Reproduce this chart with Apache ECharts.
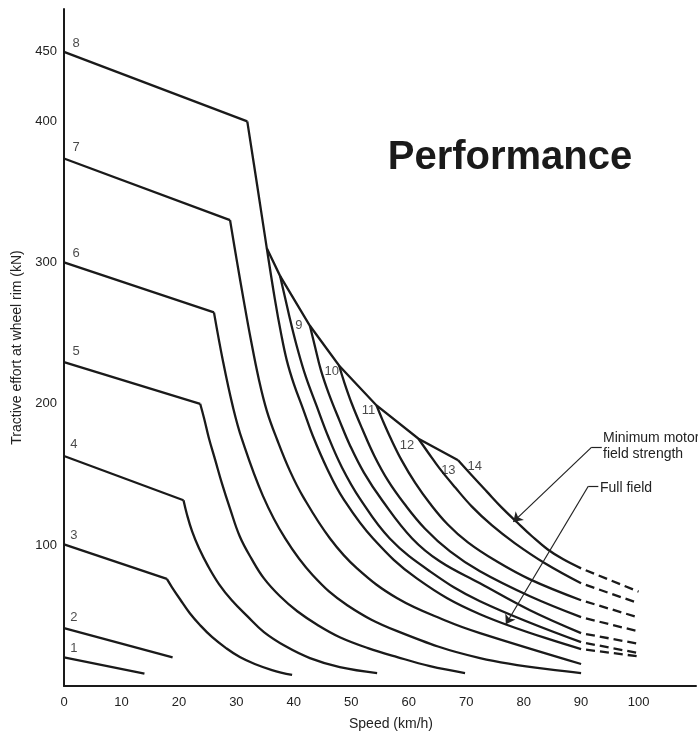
<!DOCTYPE html>
<html>
<head>
<meta charset="utf-8">
<script src="https://cdn.jsdelivr.net/npm/echarts@6/dist/echarts.min.js"></script>
<style>
  html, body { margin: 0; padding: 0; background: #ffffff; }
  #chart { width: 698px; height: 736px; }
</style>
</head>
<body>
<div id="chart"></div>
<script>
// ---------- data (speed km/h, tractive effort kN) ----------
const xTickLabels = [0, 10, 20, 30, 40, 50, 60, 70, 80, 90, 100];
const yTickLabels = [100, 200, 300, 400, 450];

const notch1 = [[0, 20.3], [14.0, 8.7]];
const notch2 = [[0, 41.0], [18.9, 20.3]];
const notch3Flat = [[0, 100.4], [17.9, 75.9]];
const notch3Fall = [[17.9, 75.9], [18.8, 70.0], [20.2, 61.5], [21.9, 51.6], [23.7, 43.1], [25.8, 34.6], [28.2, 26.9], [30.6, 20.5], [33.2, 15.6], [36.2, 11.3], [39.7, 7.8]];
const notch4Flat = [[0, 163.1], [20.8, 131.7]];
const notch4Fall = [[20.8, 131.7], [21.4, 121.6], [22.3, 109.6], [23.5, 97.6], [25.1, 84.8], [27.0, 72.1], [29.2, 60.8], [31.9, 49.5], [34.8, 38.2], [38.5, 28.3], [42.8, 19.8], [48.0, 13.4], [54.5, 9.2]];
const notch5Flat = [[0, 229.7], [23.7, 200.1]];
const notch5Fall = [[23.7, 200.1], [24.4, 189.5], [25.2, 176.0], [26.3, 160.5], [27.5, 143.5], [28.9, 125.8], [30.6, 106.0], [32.7, 89.8], [34.8, 76.3], [37.6, 63.6], [40.6, 53.0], [44.2, 43.1], [48.0, 34.6], [52.9, 26.9], [58.0, 20.5], [63.7, 14.1], [69.8, 9.2]];
const notch6Flat = [[0, 300.4], [26.1, 264.9]];
const notch6Fall = [[26.1, 264.9], [27.7, 229.7], [29.4, 197.9], [31.0, 174.6], [34.6, 135.0], [38.5, 104.6], [43.3, 78.5], [49.3, 57.3], [58.0, 38.9], [72.4, 19.8], [90, 9.2]];
const notch7Flat = [[0, 374.0], [28.9, 330.3]];
const notch7Fall = [[28.9, 330.3], [30.1, 301.1], [31.3, 272.9], [32.5, 246.0], [33.9, 217.7], [35.3, 195.1], [37.1, 174.6], [39.3, 152.7], [41.6, 134.3], [46.3, 104.6], [51.0, 83.4], [58.0, 62.2], [66.7, 45.9], [72.4, 37.5], [90, 15.6]];
const notch8Flat = [[0, 449.6], [31.9, 400.3]];
const notch8Fall = [[31.9, 400.3], [33.6, 355.6], [35.3, 310.3], [36.7, 274.3], [37.8, 249.5], [38.8, 230.5], [40.0, 214.2], [41.6, 196.5], [43.3, 177.4], [45.8, 154.1], [48.6, 132.9], [53.8, 104.6], [61.4, 76.3], [72.4, 50.9], [90, 26.2]];

const envelope = [[35.3, 310.3], [37.6, 290.8], [42.8, 255.4], [47.9, 227.1], [54.4, 198.9], [61.7, 175.3], [68.6, 160.0]];
const stepA = [[37.6, 290.8], [38.5, 275.0], [39.5, 257.3], [40.7, 238.2], [42.1, 219.1], [43.9, 199.3], [46.0, 176.7], [48.4, 154.8], [51.5, 132.9], [56.7, 104.6], [63.7, 81.3], [72.4, 60.1], [90, 31.1]];
const step9 = [[42.8, 255.4], [43.7, 240.4], [44.7, 224.1], [46.1, 207.1], [47.9, 188.7], [49.8, 170.4], [52.2, 151.3], [55.4, 131.5], [60.6, 104.6], [65.4, 88.4], [72.4, 72.8], [81.1, 53.7], [90, 37.5]];
const step10 = [[47.9, 227.1], [48.7, 216.3], [50.1, 200.1], [51.9, 182.4], [54.0, 163.3], [56.4, 145.6], [59.2, 129.4], [62.8, 111.7], [67.2, 95.4], [72.4, 81.3], [81.1, 63.6], [90, 48.8]];
const step11 = [[54.4, 198.9], [55.5, 188.0], [56.9, 175.3], [58.8, 159.8], [61.1, 144.2], [63.7, 129.4], [66.8, 114.5], [70.3, 101.8], [75.0, 89.1], [81.1, 75.6], [90, 60.8]];
const step12 = [[61.7, 175.3], [63.4, 165.4], [65.4, 154.1], [68.1, 140.7], [71.0, 127.2], [74.5, 113.8], [78.5, 101.1], [83.7, 87.0], [90, 72.8]];
const step14 = [[68.6, 160.0], [71.0, 149.2], [73.6, 137.8], [76.2, 126.5], [78.9, 115.9], [81.5, 106.0], [84.2, 96.8], [86.9, 89.8], [90, 83.4]];

const ext14 = [[90, 83.4], [100, 66.9]];
const ext12 = [[90, 72.8], [100, 58.7]];
const ext11 = [[90, 60.8], [100, 48.6]];
const ext10 = [[90, 48.8], [100, 38.7]];
const ext9 = [[90, 37.5], [100, 29.9]];
const extA = [[90, 31.1], [100, 23.3]];
const ext8 = [[90, 26.2], [100, 21.0]];

const stepNames = ['1', '2', '3', '4', '5', '6', '7', '8', '9', '10', '11', '12', '13', '14'];
const stepLabelSpeed = [1.7, 1.7, 1.7, 1.7, 2.1, 2.1, 2.1, 2.1, 40.9, 46.6, 53.0, 59.7, 66.9, 71.5];
const stepLabelForce = [26.9, 48.6, 106.5, 171.1, 237.0, 306.8, 381.9, 455.7, 255.9, 222.9, 195.3, 170.6, 152.5, 156.0];

// leader lines (data coords): [text end, corner, arrow tip]
const minFieldLeader = [[93.6, 169.4], [91.85, 169.4], [78.2, 116.4]];
const fullFieldLeader = [[93.0, 141.6], [91.25, 141.6], [76.9, 43.8]];

// ---------- chart ----------
const INK = '#1a1a1a';
const FONT = "'Liberation Sans', Arial, Helvetica, sans-serif";

function curve(data, smooth, dashed) {
  return {
    type: 'line',
    data: data,
    symbol: 'none',
    showSymbol: false,
    smooth: smooth ? 0.4 : false,
    silent: true,
    animation: false,
    lineStyle: {
      color: INK,
      width: 2.3,
      type: dashed ? [9, 5] : 'solid',
      dashOffset: dashed ? 9 : 0,
      cap: 'butt',
      join: 'miter'
    },
    z: 3
  };
}

const series = [
  curve(notch1, false), curve(notch2, false),
  curve(notch3Flat, false), curve(notch3Fall, true),
  curve(notch4Flat, false), curve(notch4Fall, true),
  curve(notch5Flat, false), curve(notch5Fall, true),
  curve(notch6Flat, false), curve(notch6Fall, true),
  curve(notch7Flat, false), curve(notch7Fall, true),
  curve(notch8Flat, false), curve(notch8Fall, true),
  curve(envelope, false),
  curve(stepA, true), curve(step9, true), curve(step10, true),
  curve(step11, true), curve(step12, true), curve(step14, true),
  curve(ext14, false, true), curve(ext12, false, true), curve(ext11, false, true),
  curve(ext10, false, true), curve(ext9, false, true), curve(extA, false, true),
  curve(ext8, false, true)
];

// step number labels
series.push({
  type: 'scatter',
  silent: true,
  animation: false,
  symbolSize: 1,
  itemStyle: { color: 'rgba(0,0,0,0)' },
  data: stepNames.map((n, i) => ({ name: n, value: [stepLabelSpeed[i], stepLabelForce[i]] })),
  label: {
    show: true,
    position: 'inside',
    formatter: '{b}',
    fontFamily: FONT,
    fontSize: 13,
    color: '#1a1a1a'
  },
  z: 5
});

// leader lines with arrows
function leaderLines(pts) {
  return [
    [{ coord: pts[0], symbol: 'none' }, { coord: pts[1], symbol: 'none' }],
    [{ coord: pts[1], symbol: 'none' }, { coord: pts[2], symbol: 'arrow' }]
  ];
}
series.push({
  type: 'line',
  data: [],
  silent: true,
  animation: false,
  markLine: {
    silent: true,
    animation: false,
    symbol: ['none', 'arrow'],
    symbolSize: 9,
    label: { show: false },
    lineStyle: { type: 'solid', color: '#222', width: 1.2 },
    emphasis: { disabled: true },
    data: leaderLines(minFieldLeader).concat(leaderLines(fullFieldLeader))
  }
});

const chart = echarts.init(document.getElementById('chart'), null, { renderer: 'canvas' });
chart.setOption({
  backgroundColor: '#ffffff',
  animation: false,
  textStyle: { fontFamily: FONT },
  grid: { left: 64, right: 2, top: 9, bottom: 48, containLabel: false },
  xAxis: {
    type: 'value',
    min: 0, max: 110, interval: 10,
    name: 'Speed (km/h)',
    nameLocation: 'middle',
    nameGap: 31,
    nameTextStyle: { fontFamily: FONT, fontSize: 14, color: '#222', padding: [0, 0, 0, 22] },
    axisLine: { show: true, onZero: false, lineStyle: { color: INK, width: 2 } },
    axisTick: { show: false },
    splitLine: { show: false },
    axisLabel: {
      margin: 10,
      fontFamily: FONT, fontSize: 13, color: '#222',
      showMaxLabel: false,
      formatter: v => (xTickLabels.indexOf(v) >= 0 ? String(v) : '')
    }
  },
  yAxis: {
    type: 'value',
    min: 0, max: 480, interval: 50,
    name: 'Tractive effort at wheel rim (kN)',
    nameLocation: 'middle',
    nameGap: 40,
    nameTextStyle: { fontFamily: FONT, fontSize: 14, color: '#222' },
    axisLine: { show: true, onZero: false, lineStyle: { color: INK, width: 2 } },
    axisTick: { show: false },
    splitLine: { show: false },
    axisLabel: {
      margin: 7,
      fontFamily: FONT, fontSize: 13, color: '#222',
      showMaxLabel: false,
      formatter: v => (yTickLabels.indexOf(v) >= 0 ? String(v) : '')
    }
  },
  graphic: [
    { type: 'text', x: 510, y: 158, silent: true,
      style: { text: 'Performance', font: 'bold 40px ' + FONT, fill: INK,
               align: 'center', verticalAlign: 'middle', textAlign: 'center', textVerticalAlign: 'middle' } },
    { type: 'text', x: 603, y: 438, silent: true,
      style: { text: 'Minimum motor', font: '14px ' + FONT, fill: '#222',
               align: 'left', verticalAlign: 'middle', textAlign: 'left', textVerticalAlign: 'middle' } },
    { type: 'text', x: 603, y: 454, silent: true,
      style: { text: 'field strength', font: '14px ' + FONT, fill: '#222',
               align: 'left', verticalAlign: 'middle', textAlign: 'left', textVerticalAlign: 'middle' } },
    { type: 'text', x: 600, y: 488, silent: true,
      style: { text: 'Full field', font: '14px ' + FONT, fill: '#222',
               align: 'left', verticalAlign: 'middle', textAlign: 'left', textVerticalAlign: 'middle' } }
  ],
  series: series
});
</script>
</body>
</html>
